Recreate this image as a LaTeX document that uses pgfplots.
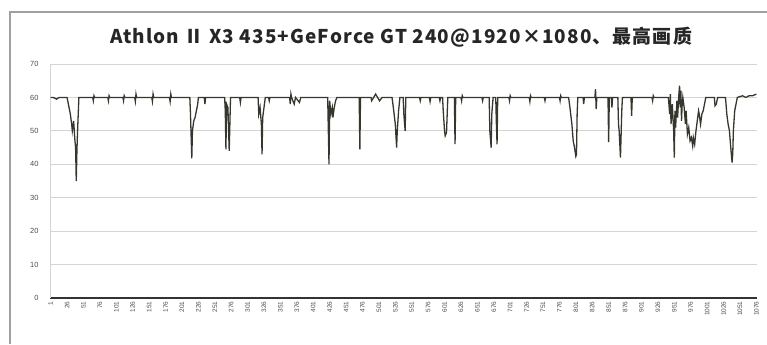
\documentclass[border=0pt]{standalone}
\usepackage{fontspec}
\setmainfont{Liberation Sans}
\newfontfamily\cjk[LetterSpace=6]{Noto Sans CJK SC}
\usepackage{pgfplots}
\pgfplotsset{compat=1.18}
\definecolor{lineC}{HTML}{35372E}
\definecolor{frameC}{HTML}{A0A0A0}
\definecolor{gridC}{HTML}{D4D4D4}

\begin{document}
\begin{tikzpicture}[x=1bp,y=1bp]
\useasboundingbox (0,0) rectangle (767,344);
% outer chart frame
\draw[frameC, line width=2bp] (10,0) -- (10,332) -- (767,332);
\node[font=\cjk\bfseries\fontsize{19}{19}\selectfont, text=black!85] at (401,307)
  {Athlon Ⅱ X3 435+GeForce GT 240@1920×1080、最高画质};

\begin{axis}[
    at={(50bp,46bp)}, anchor=south west,
    scale only axis,
    width=707bp, height=234bp,
    xmin=0, xmax=1077,
    ymin=0, ymax=70,
    ytick={0,10,...,70},
    xtick={1,26,...,1076},
    ymajorgrids,
    grid style={gridC, line width=0.8bp},
    axis x line=bottom, axis y line=left,
    x axis line style={-, line width=2.5bp, black!80},
    y axis line style={-, gridC, line width=0.8bp},
    major tick length=0pt,
    /pgf/number format/assume math mode=true,
    /pgf/number format/1000 sep={},
    yticklabel style={font=\fontsize{7.5}{7.5}\selectfont, text=black!70, xshift=-8bp},
    xticklabel style={rotate=90, anchor=east, font=\fontsize{6.5}{6.5}\selectfont, text=black!70},
]
\addplot[lineC, line width=1.3bp, mark=none] coordinates {
 (1,60) (5,60) (10,59.5) (14,60) (26,60) (28,58) (31,55) (33,52) (34,50) (36,53)
 (38,47) (39,45) (40,35) (41,44) (42,50) (44,60)
 (65,60) (66,59) (67,60.5) (68,60) (88,60) (89,59) (90,60.5) (91,60)
 (111,60) (112,59) (113,60.5) (114,60) (129,60) (130,58.8) (131,61) (132,60)
 (155,60) (156,58.8) (157,61) (158,60) (182,60) (183,58.8) (184,61) (185,60)
 (213,60) (214,55) (216,41.8) (217,50) (219,53) (221,54) (223,56) (225,58) (226,60)
 (235,60) (236,58) (237,60)
 (266,60) (267,56) (268,44.5) (269,58) (271,57) (273,44) (274,52) (275,60)
 (289,60) (290,58.5) (291,60)
 (317,60) (318,55) (320,57) (322,52) (323,43) (324,54) (326,57) (328,60)
 (333,60) (334,59) (335,60)
 (365,60) (366,58) (367,61) (368,60) (372,58) (374,60) (380,58.5) (382,60)
 (423,60) (425,40) (426,59) (428,55) (430,57) (431,54) (433,57) (435,59) (437,60)
 (471,60) (472,44.5) (473,60)
 (489,60) (490,59) (496,61) (502,59) (506,60)
 (521,60) (523,57) (526,52) (528,45) (529,50) (531,56) (533,60)
 (538,60) (539,55) (541,50) (542,60)
 (563,60) (564,59) (565,60) (578,60) (579,58.8) (580,60) (593,60) (594,59) (595,60)
 (598,60) (599,56) (600,53) (601,50) (602,48.5) (604,49.5) (606,60)
 (616,60) (617,46) (618,60)
 (626,60) (627,59) (628,60.5) (629,60) (658,60) (659,59) (660,60)
 (669,60) (670,50) (672,45) (673,55) (675,60) (679,60) (680,52) (681,46) (682,60)
 (699,60) (700,59) (701,60.5) (702,60) (730,60) (731,58.8) (732,60.5) (733,60)
 (753,60) (754,59) (755,60) (776,60) (777,59) (778,60.5) (779,60)
 (790,60) (792,57) (795,52) (797,47) (799,45) (801,42.4) (802,43) (803,55) (804,60)
 (812,60) (813,58) (814,60)
 (830,60) (831,62.5) (832,56.5) (833,60)
 (850,60) (851,46.6) (852,60) (855,60) (856,57) (857,60)
 (865,60) (866,52) (867,50) (869,42) (870,49) (871,56) (872,60)
 (885,60) (886,54.5) (887,60)
 (917,60) (918,59) (919,60.5) (920,60)
 (942,60) (944,55) (945,61) (946,52) (948,58) (950,50) (951,42) (952,56) (953,51)
 (955,59) (956,54) (958,61) (959,63.5) (960,57) (961,62) (962,53) (963,58) (964,60)
 (966,57) (968,52) (969,56) (971,49) (973,51) (975,47) (977,48) (979,45.5) (980,48)
 (982,46) (984,50) (986,53) (988,56) (989,55) (991,52) (993,55) (995,56) (997,58) (999,60)
 (1012,60) (1013,57.5) (1015,58) (1017,60)
 (1029,60) (1031,55) (1033,52) (1035,50) (1037,45) (1039,40.5) (1040,43) (1041,50)
 (1043,56) (1045,58) (1047,60) (1055,60.5) (1060,60) (1065,60.5) (1070,60.5) (1076,61)
};
\end{axis}
\end{tikzpicture}
\end{document}
